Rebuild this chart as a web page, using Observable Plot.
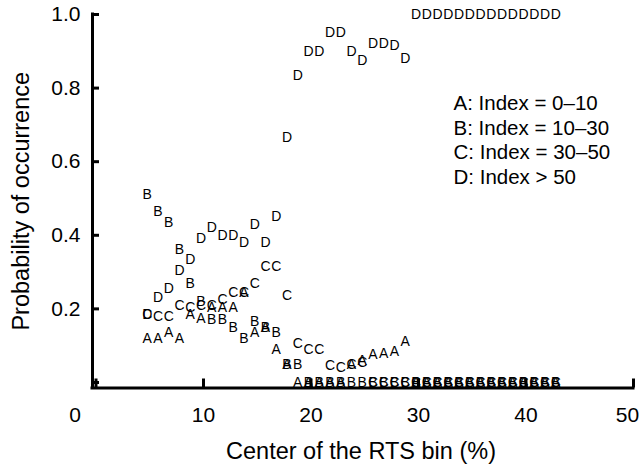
<!DOCTYPE html>
<html><head><meta charset="utf-8">
<script src="https://cdn.jsdelivr.net/npm/d3@7"></script>
<script src="https://cdn.jsdelivr.net/npm/@observablehq/plot@0.6"></script>
<style>body{margin:0;background:#fff}</style>
</head><body><div id="chart"></div>
<script>
const bins = [5,6,7,8,9,10,11,12,13,14,15,16,17,18,19,20,21,22,23,24,25,26,27,28,29,30,31,32,33,34,35,36,37,38,39,40,41,42,43];
const seriesA = [0.12,0.12,0.135,0.12,0.185,0.175,0.205,0.205,0.205,0.245,0.135,0.15,0.09,0.05,0,0,0,0,0,0.05,0.06,0.075,0.08,0.085,0.11,0,0,0,0,0,0,0,0,0,0,0,0,0,0];
const seriesB = [0.51,0.465,0.435,0.36,0.27,0.22,0.17,0.17,0.15,0.12,0.165,0.15,0.135,0.05,0.05,0,0,0,0,0,0,0,0,0,0,0,0,0,0,0,0,0,0,0,0,0,0,0,0];
const seriesC = [0.185,0.18,0.18,0.21,0.205,0.21,0.21,0.225,0.245,0.245,0.27,0.315,0.315,0.235,0.105,0.09,0.09,0.045,0.04,0.05,0.055,0,0,0,0,0,0,0,0,0,0,0,0,0,0,0,0,0,0];
const seriesD = [0.185,0.23,0.255,0.305,0.335,0.39,0.42,0.4,0.4,0.38,0.43,0.38,0.45,0.665,0.835,0.9,0.9,0.95,0.95,0.9,0.875,0.92,0.92,0.915,0.88,1,1,1,1,1,1,1,1,1,1,1,1,1,1];
const seriesKeys = ["A","B","C","D"];
const legendLabels = ["A: Index = 0\u201310","B: Index = 10\u201330","C: Index = 30\u201350","D: Index > 50"];
const xTicks = [0,10,20,30,40,50];
const yTicks = [0,0.2,0.4,0.6,0.8,1.0];
const xDomain = [-0.326, 50];
const yDomain = [-0.015, 1];
const xTitle = "Center of the RTS bin (%)";
const yTitle = "Probability of occurrence";

const rows = [];
[seriesA, seriesB, seriesC, seriesD].forEach((vals, s) =>
  vals.forEach((v, i) => rows.push({x: bins[i], y: v, k: seriesKeys[s]})));

const font = "'Liberation Sans', Arial, Helvetica, sans-serif";
const first = xTicks[0], last = xTicks[xTicks.length - 1];
const chart = Plot.plot({
  width: 642, height: 470,
  marginLeft: 92, marginRight: 9, marginTop: 14, marginBottom: 82.5,
  x: {domain: xDomain, label: null},
  y: {domain: yDomain, label: null},
  style: {fontFamily: font, background: "#fff", color: "#000"},
  marks: [
    Plot.ruleX([xDomain[0]], {stroke: "#000", strokeWidth: 3, strokeLinecap: "square"}),
    Plot.ruleY([yDomain[0]], {stroke: "#000", strokeWidth: 3, strokeLinecap: "square"}),
    Plot.axisY(yTicks, {anchor: "left", tickSize: -7, tickPadding: 19, strokeWidth: 3, fontSize: 21,
      tickFormat: d => d === 0 ? "" : d3.format(".1f")(d), label: null}),
    Plot.axisX(xTicks, {anchor: "bottom", tickSize: -9, tickPadding: 28, strokeWidth: 3, fontSize: 21,
      tickFormat: d => (d === first || d === last) ? "" : String(d), label: null}),
    Plot.axisX([first], {anchor: "bottom", tickSize: 0, tickPadding: 19, dx: -21, fontSize: 21, label: null}),
    Plot.axisX([last], {anchor: "bottom", tickSize: 0, tickPadding: 19, dx: -6, fontSize: 21, label: null}),
    Plot.text(rows, {x: "x", y: "y", text: "k", fontSize: 14, dx: -2.5, fill: "#000"}),
    Plot.text([legendLabels.join("\n")], {frameAnchor: "top-left", textAnchor: "start", lineAnchor: "top",
      dx: 361, dy: 78, fontSize: 20.5, lineHeight: 1.2, fill: "#000"}),
    Plot.text([xTitle], {frameAnchor: "bottom", textAnchor: "middle", lineAnchor: "middle", dx: -2, dy: 63, fontSize: 23.5, fill: "#000"}),
    Plot.text([yTitle], {frameAnchor: "left", textAnchor: "middle", lineAnchor: "middle", rotate: -90, dx: -71, fontSize: 23.5, fill: "#000"})
  ]
});
document.getElementById("chart").appendChild(chart);
</script>
</body></html>
